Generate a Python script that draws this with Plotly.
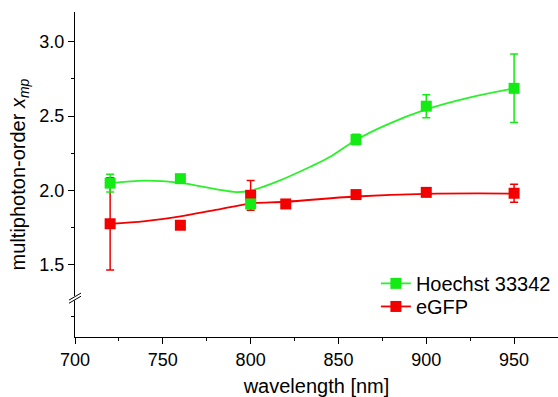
import plotly.graph_objects as go

# Measured data
wl_h = [720, 760, 800, 860, 900, 950]
xmp_h = [2.05, 2.08, 1.91, 2.343, 2.567, 2.687]
err_h = [0.06, 0.02, 0.025, 0.035, 0.077, 0.23]

wl_g = [720, 760, 800, 820, 860, 900, 950]
xmp_g = [1.777, 1.767, 1.968, 1.91, 1.973, 1.988, 1.982]
err_g = [0.31, 0.0, 0.10, 0.0, 0.0, 0.015, 0.06]

# Fit curves
fit_h_x = [720, 740, 760, 780, 792, 800, 815, 834, 845, 860, 877, 900, 925, 950]
fit_h_y = [2.05, 2.067, 2.052, 2.01, 1.99, 2.0, 2.06, 2.16, 2.225, 2.34, 2.44, 2.545, 2.626, 2.687]
fit_g_x = [720, 740, 760, 780, 800, 820, 860, 900, 950]
fit_g_y = [1.777, 1.795, 1.827, 1.87, 1.913, 1.925, 1.96, 1.978, 1.98]

x_ticks = [700, 750, 800, 850, 900, 950]
y_ticks = [1.5, 2.0, 2.5, 3.0]

GREEN = "#14ea14"
GREEN_L = "#2cf02c"
RED = "#f20000"
FONT = "Liberation Sans, Arial"

fig = go.Figure()
fig.add_trace(go.Scatter(x=fit_h_x, y=fit_h_y, mode="lines", line=dict(color=GREEN_L, width=1.8, shape="spline"),
                         showlegend=False, hoverinfo="skip"))
fig.add_trace(go.Scatter(x=fit_g_x, y=fit_g_y, mode="lines", line=dict(color=RED, width=1.8, shape="spline"),
                         showlegend=False, hoverinfo="skip"))
fig.add_trace(go.Scatter(x=wl_g, y=xmp_g, mode="markers", name="eGFP",
                         marker=dict(symbol="square", size=11, color=RED),
                         error_y=dict(type="data", array=err_g, color=RED, thickness=1.5, width=4),
                         showlegend=False))
fig.add_trace(go.Scatter(x=wl_h, y=xmp_h, mode="markers", name="Hoechst 33342",
                         marker=dict(symbol="square", size=11, color=GREEN),
                         error_y=dict(type="data", array=err_h, color=GREEN, thickness=1.5, width=4),
                         showlegend=False))
# legend entries
fig.add_trace(go.Scatter(x=[None], y=[None], mode="lines+markers", name="Hoechst 33342", legend="legend",
                         line=dict(color=GREEN_L, width=1.8), marker=dict(symbol="square", size=11, color=GREEN)))
fig.add_trace(go.Scatter(x=[None], y=[None], mode="lines+markers", name="eGFP", legend="legend2",
                         line=dict(color=RED, width=1.8), marker=dict(symbol="square", size=11, color=RED)))

axis_common = dict(showline=True, linecolor="black", linewidth=1.2, showgrid=False, zeroline=False,
                   ticks="outside", ticklen=6, tickwidth=1.2, tickcolor="black",
                   tickfont=dict(family=FONT, size=18, color="black"))

fig.update_xaxes(range=[700, 975], tickvals=x_ticks,
                 minor=dict(ticks="outside", ticklen=3, tickwidth=1, tickcolor="black", dtick=25, tick0=700),
                 title=dict(text="wavelength [nm]", font=dict(family=FONT, size=20, color="black"),
                            standoff=12),
                 **axis_common)
fig.update_yaxes(range=[1.016, 3.2], tickvals=y_ticks, tickformat=".1f",
                 minor=dict(ticks="outside", ticklen=3, tickwidth=1, tickcolor="black",
                            tickvals=[1.155, 1.75, 2.25, 2.75]),
                 title=dict(text="multiphoton-order <i>x</i><sub><i>mp</i></sub>",
                            font=dict(family=FONT, size=20, color="black"), standoff=8),
                 **axis_common)

# axis break marks
fig.add_shape(type="rect", xref="paper", yref="y", x0=-0.01, x1=0.01, y0=1.262, y1=1.292,
              fillcolor="white", line=dict(width=0))
fig.add_shape(type="line", xref="paper", yref="y", x0=-0.0124, x1=0.0124, y0=1.243, y1=1.29,
              line=dict(color="black", width=1))
fig.add_shape(type="line", xref="paper", yref="y", x0=-0.0124, x1=0.0124, y0=1.264, y1=1.311,
              line=dict(color="black", width=1))

leg_common = dict(xanchor="left", yanchor="top", bgcolor="rgba(0,0,0,0)",
                  font=dict(family=FONT, size=20, color="black"), itemwidth=30)

fig.update_layout(
    width=558, height=397,
    margin=dict(l=75, r=0, t=12, b=60, autoexpand=False),
    plot_bgcolor="white", paper_bgcolor="white",
    font=dict(family=FONT, color="black"),
    legend=dict(x=0.623, y=0.225, **leg_common),
    legend2=dict(x=0.623, y=0.154, **leg_common),
)

fig.write_html("out.html", post_script="document.body.style.margin='0';",
               config={"displayModeBar": False})
